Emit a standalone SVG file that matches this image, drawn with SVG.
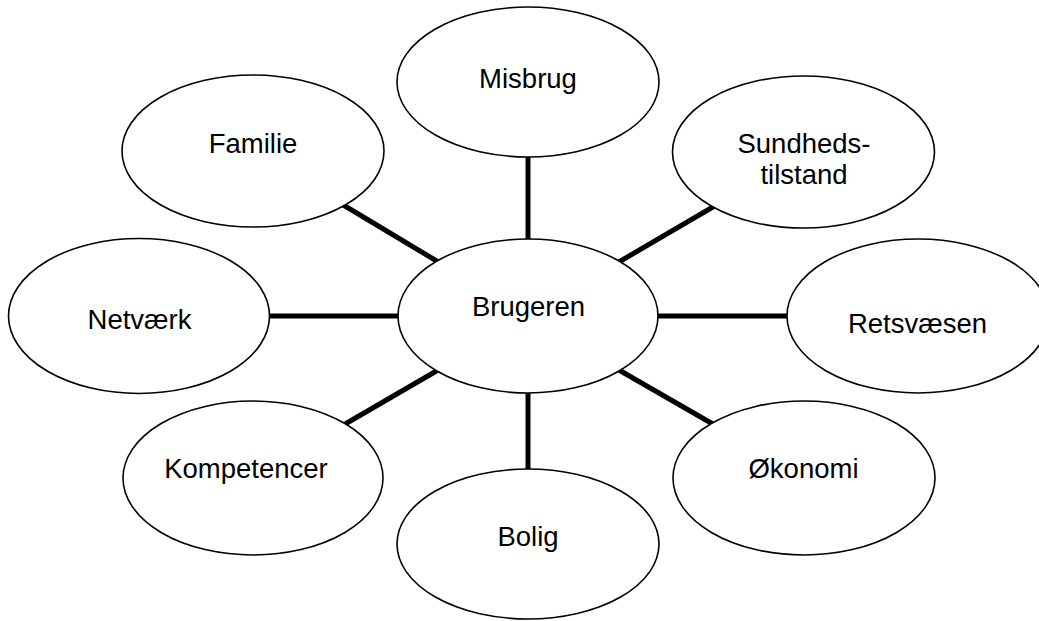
<svg xmlns="http://www.w3.org/2000/svg" width="1039" height="621" viewBox="0 0 1039 621">
<style>
.node ellipse{fill:#fff;stroke:#000;stroke-width:1.6}
.node text{font-family:"Liberation Sans",Arial,sans-serif;font-size:27.5px;fill:#000;text-anchor:middle}
#connectors line{stroke:#000;stroke-width:5}
</style>
<rect width="1039" height="621" fill="#fff"/>
<g id="connectors">
<line x1="528" y1="150" x2="528" y2="245"/>
<line x1="340" y1="203" x2="445" y2="266"/>
<line x1="718" y1="204" x2="612" y2="266"/>
<line x1="262" y1="316" x2="405" y2="316"/>
<line x1="651" y1="316" x2="795" y2="316"/>
<line x1="445" y1="366" x2="340" y2="427"/>
<line x1="612" y1="366" x2="718" y2="427"/>
<line x1="528" y1="388" x2="528" y2="476"/>
</g>
<g id="misbrug" class="node"><ellipse cx="528" cy="82" rx="131" ry="75"/><text x="528" y="88">Misbrug</text></g>
<g id="familie" class="node"><ellipse cx="253" cy="151" rx="131" ry="76"/><text x="253" y="153">Familie</text></g>
<g id="sundhedstilstand" class="node"><ellipse cx="803.5" cy="152" rx="131" ry="76"/><text x="804" y="153">Sundheds-</text><text x="804" y="184">tilstand</text></g>
<g id="netvaerk" class="node"><ellipse cx="139" cy="316" rx="130.5" ry="77.5"/><text x="139.5" y="329">Netværk</text></g>
<g id="brugeren" class="node"><ellipse cx="528" cy="316" rx="130" ry="77"/><text x="528.5" y="316">Brugeren</text></g>
<g id="retsvaesen" class="node"><ellipse cx="918" cy="316" rx="131" ry="77"/><text x="917.5" y="333">Retsvæsen</text></g>
<g id="kompetencer" class="node"><ellipse cx="253" cy="478" rx="130" ry="77"/><text x="246" y="478">Kompetencer</text></g>
<g id="bolig" class="node"><ellipse cx="528" cy="544" rx="131" ry="75"/><text x="528" y="546">Bolig</text></g>
<g id="okonomi" class="node"><ellipse cx="804" cy="478" rx="131" ry="77"/><text x="803.5" y="478">Økonomi</text></g>
</svg>
